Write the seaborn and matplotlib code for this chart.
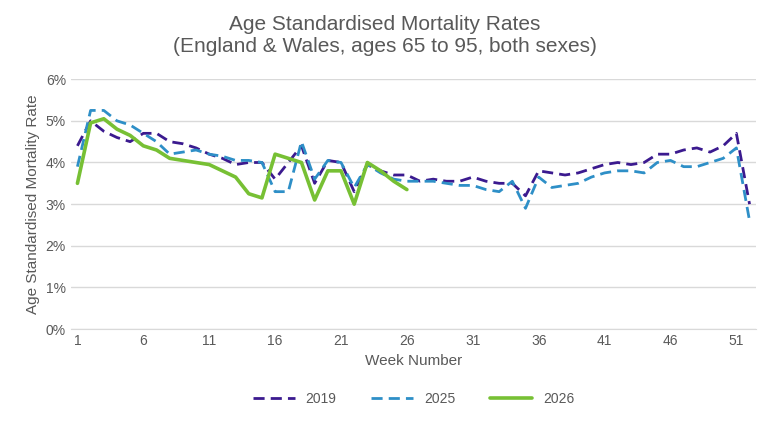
import matplotlib
matplotlib.use("Agg")
import matplotlib.pyplot as plt
import seaborn as sns
import pandas as pd
from matplotlib.ticker import PercentFormatter

weeks = list(range(1, 53))
r2019 = [4.4,5.0,4.75,4.6,4.5,4.7,4.7,4.5,4.45,4.35,4.2,4.1,3.95,4.0,4.0,3.6,4.0,4.4,3.5,4.05,4.0,3.3,3.95,3.8,3.7,3.7,
         3.55,3.6,3.55,3.55,3.65,3.55,3.5,3.5,3.2,3.8,3.75,3.7,3.75,3.85,3.95,4.0,3.95,4.0,4.2,4.2,4.3,4.35,4.25,4.4,4.7,3.0]
r2025 = [3.9,5.25,5.25,5.0,4.9,4.7,4.5,4.2,4.25,4.3,4.2,4.15,4.05,4.05,4.0,3.3,3.3,4.5,3.6,4.05,4.0,3.4,3.95,3.75,3.6,3.55,
         3.55,3.55,3.5,3.45,3.45,3.35,3.3,3.55,2.9,3.65,3.4,3.45,3.5,3.65,3.75,3.8,3.8,3.75,4.0,4.05,3.9,3.9,4.0,4.1,4.35,2.6]
r2026 = [3.5,4.95,5.05,4.8,4.65,4.4,4.3,4.1,4.05,4.0,3.95,3.8,3.65,3.25,3.15,4.2,4.1,4.0,3.1,3.8,3.8,3.0,4.0,3.8,3.55,3.35]

sns.set_style("white")
plt.rcParams['font.family'] = ['Liberation Sans', 'DejaVu Sans']

fig, ax = plt.subplots(figsize=(7.7, 4.28), dpi=100)
fig.subplots_adjust(left=0.092, right=0.982, top=0.815, bottom=0.231)

sns.lineplot(x=weeks, y=r2019, ax=ax, color="#3b1a8f", lw=2, label="2019")
sns.lineplot(x=weeks, y=r2025, ax=ax, color="#2e8fc7", lw=2, label="2025")
sns.lineplot(x=weeks[:len(r2026)], y=r2026, ax=ax, color="#77c034", lw=2.6, label="2026")
ax.lines[0].set_linestyle((0, (4, 2.2)))
ax.lines[1].set_linestyle((0, (4, 2.2)))

ax.set_ylim(0, 6)
ax.set_xlim(0.5, 52.5)
ax.set_xticks(range(1, 53, 5))
ax.yaxis.set_major_formatter(PercentFormatter(decimals=0))
ax.grid(axis='y', color="#d9d9d9", lw=1)
for s in ["top", "right", "left"]:
    ax.spines[s].set_visible(False)
ax.spines["bottom"].set_color("#d9d9d9")
ax.tick_params(colors="#595959", labelsize=10, length=0)
ax.set_xlabel("Week Number", color="#595959", fontsize=11)
ax.set_ylabel("Age Standardised Mortality Rate", color="#595959", fontsize=11)
fig.suptitle("Age Standardised Mortality Rates\n(England & Wales, ages 65 to 95, both sexes)",
             color="#595959", fontsize=15, y=0.965)
leg = ax.legend(loc="upper center", bbox_to_anchor=(0.5, -0.2), ncol=3, frameon=False,
                fontsize=10, handlelength=3, columnspacing=2.5)
for t in leg.get_texts():
    t.set_color("#595959")
fig.savefig("out.png")
